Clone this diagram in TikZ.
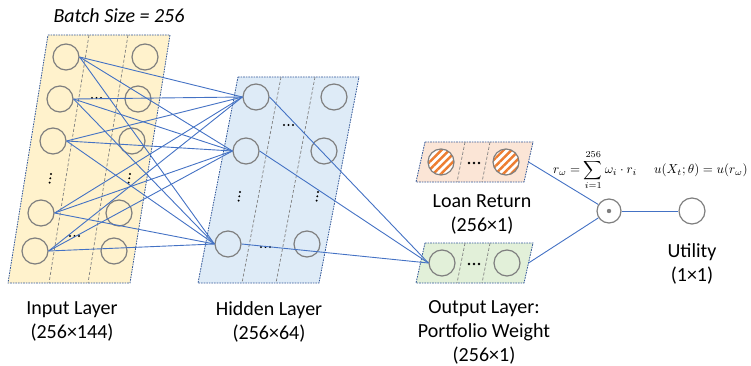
\documentclass[tikz,border=0pt]{standalone}
\usepackage{graphicx}
\usepackage{fontspec}
\setmainfont{Carlito}
\usetikzlibrary{patterns.meta}
\definecolor{inF}{HTML}{FFF2CC}
\definecolor{hidF}{HTML}{DEEBF7}
\definecolor{loanF}{HTML}{FBE5D6}
\definecolor{outF}{HTML}{E2F0D9}
\definecolor{boxB}{HTML}{2F5597}
\definecolor{circB}{HTML}{7F7F7F}
\definecolor{connC}{HTML}{4472C4}
\definecolor{hatchC}{HTML}{ED7D31}
\begin{document}
\begin{tikzpicture}[x=1pt,y=-1pt,
  layerbox/.style={draw=boxB,line width=0.8pt,dash pattern=on 1.6pt off 1pt},
  divider/.style={draw=circB,line width=0.7pt,dash pattern=on 3pt off 2pt},
  neuron/.style={circle,draw=circB,line width=1.2pt,minimum size=26pt,inner sep=0pt},
  hatched/.style={neuron,preaction={fill=white},pattern={Lines[angle=45,distance=5.5pt,line width=2.4pt]},pattern color=hatchC},
  conn/.style={draw=connC,line width=0.9pt},
  lbl/.style={font=\fontsize{20}{24}\selectfont,align=center,inner sep=0pt},
  blackdot/.style={fill=black,draw=none},
  mathlbl/.style={inner sep=0pt,anchor=west}
]
\useasboundingbox (0,0) rectangle (751,366);

% Layer boxes
\fill[inF] (48,35) -- (170,35) -- (130,283) -- (8,283) -- cycle;
\draw[layerbox] (48,35) -- (170,35) -- (130,283) -- (8,283) -- cycle;
\draw[divider] (89,35) -- (49,283);
\draw[divider] (128,35) -- (88,283);

\fill[hidF] (238,77) -- (359,77) -- (319,283) -- (198,283) -- cycle;
\draw[layerbox] (238,77) -- (359,77) -- (319,283) -- (198,283) -- cycle;
\draw[divider] (281,77) -- (242,283);
\draw[divider] (315,77) -- (276,283);

\fill[loanF] (425,142) -- (533,142) -- (524,182) -- (416,182) -- cycle;
\draw[layerbox] (425,142) -- (533,142) -- (524,182) -- (416,182) -- cycle;
\draw[divider] (465,142) -- (457,182);
\draw[divider] (490,142) -- (482,182);

\fill[outF] (425,243) -- (533,243) -- (524,283) -- (416,283) -- cycle;
\draw[layerbox] (425,243) -- (533,243) -- (524,283) -- (416,283) -- cycle;
\draw[divider] (465,243) -- (457,283);
\draw[divider] (490,243) -- (482,283);

% Input neurons
\node[neuron] (i1) at (66,57) {};
\node[neuron] (i2) at (60,99) {};
\node[neuron] (i3) at (53,141) {};
\node[neuron] (i4) at (41,213) {};
\node[neuron] (i5) at (35,251) {};
\node[neuron] (j1) at (145,57) {};
\node[neuron] (j2) at (138,99) {};
\node[neuron] (j3) at (132,141) {};
\node[neuron] (j4) at (119,213) {};
\node[neuron] (j5) at (114,251) {};

% Hidden neurons
\node[neuron] (h1) at (256,97) {};
\node[neuron] (h2) at (246,151) {};
\node[neuron] (h3) at (228,244) {};
\node[neuron] (k1) at (334,97) {};
\node[neuron] (k2) at (324,151) {};
\node[neuron] (k3) at (307,244) {};

% Loan return and output neurons
\node[hatched] (l1) at (441,162) {};
\node[hatched] (l2) at (506,162) {};
\node[neuron] (o1) at (442,263) {};
\node[neuron] (o2) at (507,263) {};

% Dots
\foreach \x/\y in {92/98, 70/236, 284/125, 261/247}{
  \fill[blackdot] (\x,\y) circle (1.1) (\x+4.5,\y) circle (1.1) (\x+9,\y) circle (1.1);
}
\foreach \x/\y in {51/174, 130/174, 240/192, 318/192}{
  \fill[blackdot] (\x,\y) circle (1.1) (\x-0.7,\y+4.3) circle (1.1) (\x-1.4,\y+8.6) circle (1.1);
}
\foreach \x/\y in {469/163, 469/264}{
  \fill[blackdot] (\x,\y) circle (1.3) (\x+5,\y) circle (1.3) (\x+10,\y) circle (1.3);
}

% Connectors input -> hidden
\foreach \a in {1,...,5}{
  \foreach \b in {1,2,3}{
    \draw[conn] (i\a.east) -- (h\b.west);
  }
}
% hidden -> output
\foreach \b in {1,2,3}{
  \draw[conn] (h\b.east) -- (o1.west);
}

% product and utility
\node[neuron,minimum size=24pt,fill=white] (prod) at (609,211) {};
\fill[circB] (prod.center) circle (2.2);
\node[neuron] (util) at (692,211) {};
\coordinate (lr) at (528.5,162);
\coordinate (ow) at (528.5,263);
\draw[conn] (lr) -- (prod);
\draw[conn] (ow) -- (prod);
\draw[conn] (prod) -- (util);

% Formulas
\node[mathlbl] (f1) at (553,170) {\scalebox{1.3}{$\displaystyle r_\omega=\sum_{i=1}^{256}\omega_i\cdot r_i$}};
\node[mathlbl] (f2) at (654,170) {\scalebox{1.3}{$u(X_t;\theta)=u(r_\omega)$}};

% Labels
\node[lbl,font=\fontsize{20}{24}\selectfont\itshape] (bs) at (119,16) {Batch Size = 256};
\node[lbl] (inl) at (72,321.5) {Input Layer\\(256×144)};
\node[lbl] (hdl) at (269,321.5) {Hidden Layer\\(256×64)};
\node[lbl] (lrl) at (482,214.5) {Loan Return\\(256×1)};
\node[lbl] (otl) at (484,332.5) {Output Layer:\\Portfolio Weight\\(256×1)};
\node[lbl] (utl) at (692,264) {Utility\\(1×1)};
\end{tikzpicture}
\end{document}
